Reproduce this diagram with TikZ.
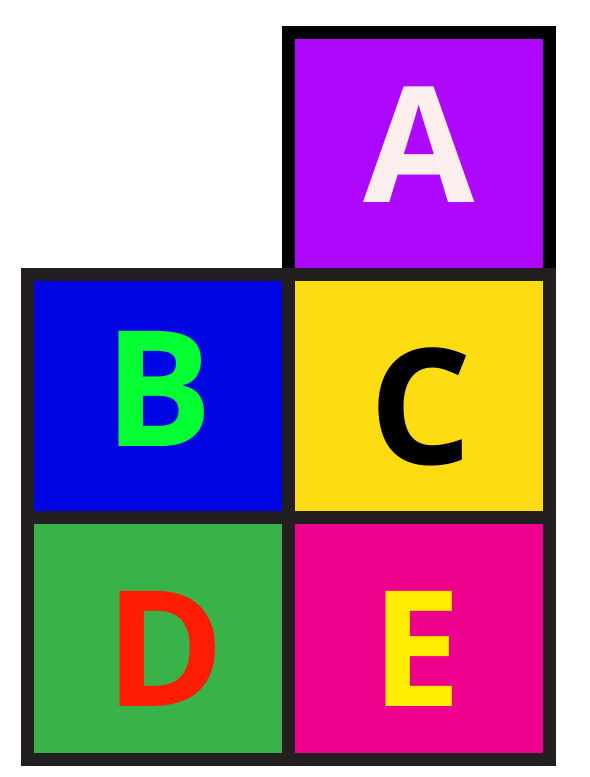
\documentclass[tikz,border=0pt]{standalone}
\usepackage{fontspec}
\setmainfont{Open Sans}
\usetikzlibrary{positioning,calc}
\definecolor{purple}{RGB}{174,9,254}
\definecolor{blue}{RGB}{0,5,228}
\definecolor{yellow}{RGB}{254,220,20}
\definecolor{green}{RGB}{57,178,74}
\definecolor{magenta}{RGB}{236,0,140}
\definecolor{frame}{RGB}{35,31,32}
\definecolor{txtA}{RGB}{253,238,238}
\definecolor{txtB}{RGB}{5,255,50}
\definecolor{txtD}{RGB}{255,30,5}
\definecolor{txtE}{RGB}{255,236,0}

\begin{document}
\begin{tikzpicture}[x=0.75pt,y=0.75pt,yscale=-1,xscale=1,
  cell/.style={draw=frame,line width=9.75pt,minimum width=195.9pt,minimum height=181.9pt,inner sep=0pt,outer sep=0pt},
  letter/.style={font=\fontsize{121}{121}\selectfont\bfseries,inner sep=0pt,anchor=base}]
\useasboundingbox (0,0) rectangle (589,777);

% Cells
\node [cell,draw=black,fill=purple] (cellA) at (418.9,153.5) {};
\node [cell,fill=blue] (cellB) at (157.7,396) {};
\node [cell,fill=yellow,right=0pt of cellB] (cellC) {};
\node [cell,fill=green,below=0pt of cellB] (cellD) {};
\node [cell,fill=magenta,right=0pt of cellD] (cellE) {};

% Text Node
\node [letter,text=txtA] (lblA) at ($(cellA)+(0,49.2)$) {A};
\node [letter,text=txtB] (lblB) at ($(cellB)+(1,50)$) {B};
\node [letter,text=black] (lblC) at ($(cellC)+(1.5,68.5)$) {C};
\node [letter,text=txtD] (lblD) at ($(cellD)+(8,68.2)$) {D};
\node [letter,text=txtE] (lblE) at ($(cellE)+(-2,68.2)$) {E};

\end{tikzpicture}
\end{document}
